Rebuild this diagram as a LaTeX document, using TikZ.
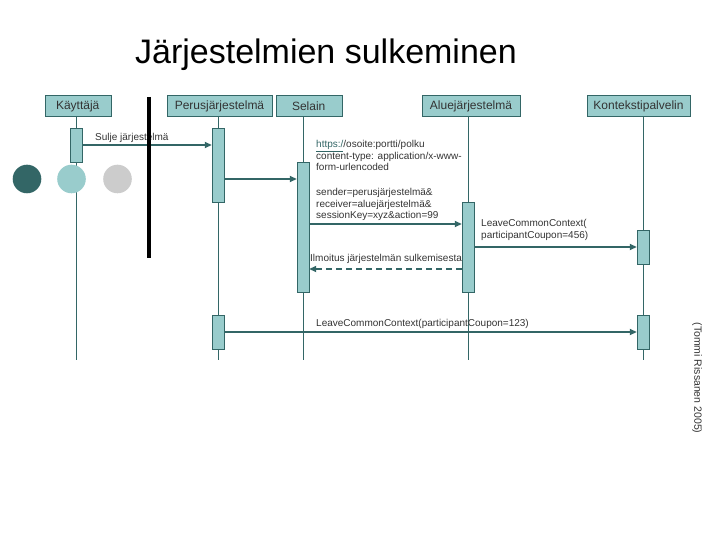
\documentclass[tikz,border=0pt]{standalone}
\usepackage{fontspec}
\setmainfont{Liberation Sans}
\usetikzlibrary{positioning,arrows.meta}

\definecolor{tealdark}{HTML}{336666}
\definecolor{teallight}{HTML}{99CCCC}
\definecolor{greylight}{HTML}{CCCCCC}

\begin{document}
\begin{tikzpicture}[x=1pt,y=-1pt,
  obj/.style={draw=tealdark,fill=teallight,minimum height=21pt,inner sep=0pt,font=\fontsize{12}{14}\selectfont,text=black!80},
  act/.style={draw=tealdark,fill=teallight,minimum width=12pt,inner sep=0pt},
  life/.style={draw=tealdark,line width=0.9pt},
  msg/.style={draw=tealdark,line width=2pt,-{Triangle[length=7pt,width=6pt]}},
  ret/.style={msg,dashed,dash pattern=on 6pt off 4pt},
  lbl/.style={font=\fontsize{10}{11.6}\selectfont,text=black!80,align=left,inner sep=0pt,anchor=north west},
  dot/.style={circle,minimum size=28.6pt,inner sep=0pt}]

\useasboundingbox (0,0) rectangle (720,540);

\node[font=\fontsize{34}{38}\selectfont] (title) at (326,55) {Järjestelmien sulkeminen};

% oliot
\node[obj,minimum width=66pt] (kay) at (77.7,106) {Käyttäjä};
\node[obj,minimum width=105pt] (per) at (219.5,106) {Perusjärjestelmä};
\node[obj,minimum width=66pt] (sel) at (308.7,106) {Selain};
\node[obj,minimum width=98pt] (alue) at (471,106) {Aluejärjestelmä};
\node[obj,minimum width=103pt] (kon) at (638.5,106) {Kontekstipalvelin};

% elämänviivat
\coordinate (kend) at (76.5,360);
\coordinate (pend) at (218,360);
\coordinate (send) at (303,360);
\coordinate (aend) at (468,360);
\coordinate (cend) at (643,360);
\draw[life] (kend |- kay.south) -- (kend);
\draw[life] (pend |- per.south) -- (pend);
\draw[life] (send |- sel.south) -- (send);
\draw[life] (aend |- alue.south) -- (aend);
\draw[life] (cend |- kon.south) -- (cend);

\node[dot,fill=tealdark] (d1) at (27,179) {};
\node[dot,fill=teallight] (d2) at (71.5,179) {};
\node[dot,fill=greylight] (d3) at (117.5,179) {};

% aktivoinnit
\node[act,minimum height=34pt] (k1) at (76.5,145) {};
\node[act,minimum height=74pt] (p1) at (218,165) {};
\node[act,minimum height=130pt] (s1) at (303,227) {};
\node[act,minimum height=90pt] (a1) at (468,247) {};
\node[act,minimum height=34pt] (c1) at (643,247) {};
\node[act,minimum height=34pt] (p2) at (218,332) {};
\node[act,minimum height=34pt] (c2) at (643,332) {};

% viestit
\coordinate (m2) at (0,179);
\coordinate (m3) at (0,224);
\coordinate (m5) at (0,269);

\draw[msg] (k1.east) -- (k1.east -| p1.west);
\draw[msg] (p1.east |- m2) -- (s1.west |- m2);
\draw[msg] (s1.east |- m3) -- (a1.west |- m3);
\draw[msg] (a1.east |- c1) -- (c1.west);
\draw[ret] (a1.west |- m5) -- (s1.east |- m5);
\draw[msg] (p2.east) -- (c2.west);

\node[lbl] (t1) at (95,133) {Sulje järjestelmä};
\node[lbl] (t2) at (316,140) {\textcolor{tealdark}{\underline{https:/}}/osoite:portti/polku\\content-type: application/x-www-\\form-urlencoded};
\node[lbl] (t3) at (316,188) {sender=perusjärjestelmä\&\\receiver=aluejärjestelmä\&\\sessionKey=xyz\&action=99};
\node[lbl] (t4) at (481,219) {LeaveCommonContext(\\participantCoupon=456)};
\node[lbl] (t5) at (310,254) {Ilmoitus järjestelmän sulkemisesta};
\node[lbl] (t6) at (316,319) {LeaveCommonContext(participantCoupon=123)};

\draw[line width=4pt] (149,97) -- (149,258);

\node[font=\fontsize{10.5}{12}\selectfont,text=black!80,rotate=-90] (tekija) at (697,378) {(Tommi Rissanen 2005)};

\end{tikzpicture}
\end{document}
